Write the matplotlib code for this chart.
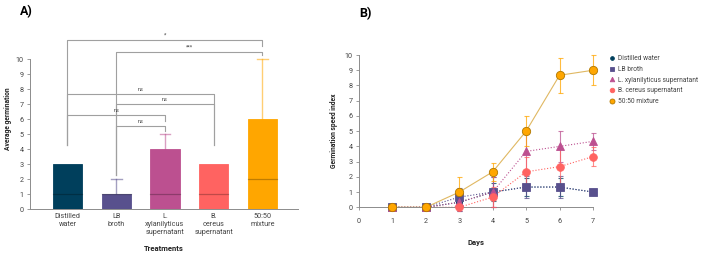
import matplotlib
matplotlib.use("Agg")
import matplotlib.pyplot as plt
import numpy as np

plt.rcParams['font.family'] = ['Roboto', 'DejaVu Sans']

# Panel A data
treatments = ["Distilled\nwater", "LB\nbroth", "L.\nxylanilyticus\nsupernatant",
              "B.\ncereus\nsupernatant", "50:50\nmixture"]
bar_top = [3, 1, 4, 3, 6]
bar_median = [1, 1, 1, 1, 2]
whisker_top = [3, 2, 5, 3, 10]
colors = ['#003f5c', '#58508d', '#bc5090', '#ff6361', '#ffa600']

# significance brackets: (left, right, label, height, left leg bottom, right leg bottom)
brackets = [
    (0, 4, '*', 11.27, 4.27, 10.9),
    (1, 4, '***', 10.5, 2.27, 10.3),
    (0, 3, 'ns', 7.67, 4.27, 4.27),
    (1, 3, 'ns', 7.0, 2.27, 4.27),
    (0, 2, 'ns', 6.27, 4.27, 5.9),
    (1, 2, 'ns', 5.53, 2.27, 5.2),
]

# Panel B data
days = [1, 2, 3, 4, 5, 6, 7]
series_names = ["Distilled water", "LB broth", "L. xylanilyticus supernatant",
                "B. cereus supernatant", "50:50 mixture"]
gsi_distilled = [0, 0, 0.33, 1.0, 1.33, 1.33, 1.0]
gsi_lb = [0, 0, 0.67, 1.0, 1.33, 1.33, 1.0]
gsi_lxyl = [0, 0, 0.33, 1.0, 3.67, 4.0, 4.33]
gsi_bcer = [0, 0, 0, 0.67, 2.33, 2.67, 3.33]
gsi_mix = [0, 0, 1.0, 2.33, 5.0, 8.67, 9.0]
sd_distilled = [0, 0, 0.58, 0.6, 0.58, 0.58, 0]
sd_lb = [0, 0, 0.58, 1.0, 0.7, 0.7, 0]
sd_lxyl = [0, 0, 0.58, 1.0, 1.45, 1.0, 0.58]
sd_bcer = [0, 0, 0, 0.67, 1.0, 1.15, 0.6]
sd_mix = [0, 0, 1.0, 0.58, 1.0, 1.15, 1.0]
markers = ['o', 's', '^', 'o', 'o']
marker_sizes = [4.5, 5.5, 5.5, 5.5, 6]

gray = '#8c8c8c'
txt = '#444444'

fig = plt.figure(figsize=(7.02, 2.63), dpi=100)

# ---------- Panel A ----------
axA = fig.add_axes([0.0427, 0.2053, 0.3818, 0.6844])
x = np.arange(len(treatments))
bw = 0.6
for i in range(len(treatments)):
    c = colors[i]
    if whisker_top[i] > bar_top[i]:
        axA.plot([i, i], [bar_top[i], whisker_top[i]], color=c, alpha=0.55, lw=1.0, zorder=1)
        axA.plot([i - 0.11, i + 0.11], [whisker_top[i]] * 2, color=c, alpha=0.55, lw=1.0, zorder=1)
    axA.bar(i, bar_top[i], width=bw, color=c, edgecolor=c, lw=0.6, zorder=2)
    axA.plot([i - bw / 2, i + bw / 2], [bar_median[i]] * 2, color='black', alpha=0.25, lw=0.9, zorder=3)

for l, r, lab, h, lb, rb in brackets:
    axA.plot([l, l, r, r], [lb, h, h, rb], color='#a0a0a0', lw=0.8, zorder=0)
    axA.text((l + r) / 2, h + 0.12, lab, ha='center', va='bottom', fontsize=4, color=txt)

axA.set_xlim(-0.77, 4.73)
axA.set_ylim(0, 12)
axA.set_yticks(range(0, 11))
axA.spines['left'].set_bounds(0, 10)
for s in ['top', 'right']:
    axA.spines[s].set_visible(False)
for s in ['left', 'bottom']:
    axA.spines[s].set_color(gray)
    axA.spines[s].set_linewidth(0.7)
axA.set_xticks(x)
axA.set_xticklabels(treatments, fontsize=5.2, color=txt, linespacing=1.15)
axA.tick_params(axis='x', length=0, pad=3)
axA.tick_params(axis='y', labelsize=5.2, labelcolor=txt, color=gray, length=2.5, width=0.6, pad=2)
axA.set_ylabel('Average germination', fontsize=4.8, fontweight='bold', color='#222222', labelpad=3)
axA.set_xlabel('Treatments', fontsize=5.5, fontweight='bold', color='#222222', labelpad=7)
fig.text(0.028, 0.955, 'A)', fontsize=9, fontweight='bold', va='center')

# ---------- Panel B ----------
axB = fig.add_axes([0.5114, 0.2118, 0.3333, 0.579])
all_y = [gsi_distilled, gsi_lb, gsi_lxyl, gsi_bcer, gsi_mix]
all_sd = [sd_distilled, sd_lb, sd_lxyl, sd_bcer, sd_mix]
for k in range(5):
    c = colors[k]
    ls = '-' if k == 4 else ':'
    lc = '#e0b862' if k == 4 else c
    axB.plot(days, all_y[k], linestyle=ls, color=lc, lw=0.8, zorder=2, clip_on=False)
    axB.errorbar(days, all_y[k], yerr=all_sd[k], fmt='none', ecolor=c, elinewidth=0.8,
                 capsize=1.8, capthick=0.8, alpha=0.75, zorder=3, clip_on=False)
    axB.plot(days, all_y[k], linestyle='none', marker=markers[k], ms=marker_sizes[k], color=c,
             mec='#b07800' if k == 4 else c, mew=0.6, zorder=4 + k, clip_on=False,
             label=series_names[k])

axB.set_xlim(0, 7)
axB.set_ylim(0, 10)
axB.set_xticks(range(0, 8))
axB.set_yticks(range(0, 11))
for s in ['top', 'right']:
    axB.spines[s].set_visible(False)
for s in ['left', 'bottom']:
    axB.spines[s].set_color(gray)
    axB.spines[s].set_linewidth(0.7)
axB.tick_params(labelsize=5.2, labelcolor=txt, color=gray, length=2.5, width=0.6, pad=2)
axB.tick_params(axis='x', pad=5)
axB.set_ylabel('Germination speed index', fontsize=4.8, fontweight='bold', color='#222222', labelpad=5)
axB.set_xlabel('Days', fontsize=5.5, fontweight='bold', color='#222222', labelpad=10)

h, lab = axB.get_legend_handles_labels()
leg = fig.legend(h, lab, loc='upper left', bbox_to_anchor=(0.868, 0.79), frameon=False,
                 fontsize=4.8, markerscale=0.6, handlelength=0.7, handletextpad=0.6,
                 labelspacing=0.55, borderaxespad=0, borderpad=0)
for t in leg.get_texts():
    t.set_color(txt)
fig.text(0.512, 0.95, 'B)', fontsize=9, fontweight='bold', va='center')

fig.savefig('out.png', dpi=100)
